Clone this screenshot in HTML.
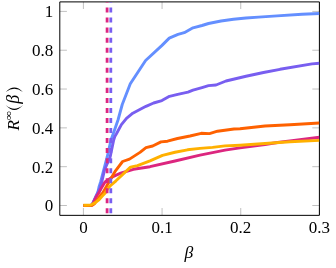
<!DOCTYPE html>
<html><head><meta charset="utf-8"><style>
html,body{margin:0;padding:0;background:#fff;}
svg{display:block;will-change:transform;}
text{font-family:"Liberation Serif",serif;font-size:17px;fill:#000;}
</style></head><body>
<svg width="336" height="268" viewBox="0 0 336 268">
<rect width="336" height="268" fill="#fff"/>
<defs><clipPath id="c"><rect x="59.8" y="1.9" width="259.60" height="213.20"/></clipPath></defs>
<g stroke="#808080" stroke-width="0.5" fill="none"><line x1="83.40" y1="215.1" x2="83.40" y2="208.0"/><line x1="83.40" y1="1.9" x2="83.40" y2="9.0"/><line x1="162.07" y1="215.1" x2="162.07" y2="208.0"/><line x1="162.07" y1="1.9" x2="162.07" y2="9.0"/><line x1="240.74" y1="215.1" x2="240.74" y2="208.0"/><line x1="240.74" y1="1.9" x2="240.74" y2="9.0"/><line x1="319.41" y1="215.1" x2="319.41" y2="208.0"/><line x1="319.41" y1="1.9" x2="319.41" y2="9.0"/><line x1="59.8" y1="205.50" x2="66.90" y2="205.50"/><line x1="319.4" y1="205.50" x2="312.30" y2="205.50"/><line x1="59.8" y1="166.68" x2="66.90" y2="166.68"/><line x1="319.4" y1="166.68" x2="312.30" y2="166.68"/><line x1="59.8" y1="127.86" x2="66.90" y2="127.86"/><line x1="319.4" y1="127.86" x2="312.30" y2="127.86"/><line x1="59.8" y1="89.04" x2="66.90" y2="89.04"/><line x1="319.4" y1="89.04" x2="312.30" y2="89.04"/><line x1="59.8" y1="50.22" x2="66.90" y2="50.22"/><line x1="319.4" y1="50.22" x2="312.30" y2="50.22"/><line x1="59.8" y1="11.40" x2="66.90" y2="11.40"/><line x1="319.4" y1="11.40" x2="312.30" y2="11.40"/></g>
<path d="M59.8,215.35 L59.8,1.9 L319.4,1.9 L319.4,215.35 Z" fill="none" stroke="#000" stroke-width="1" stroke-linejoin="miter"/>
<g clip-path="url(#c)" fill="none" stroke-width="2.9" stroke-linejoin="round">
<polyline stroke="#648FFF" points="83.40,205.50 91.20,205.30 92.40,204.00 96.00,196.30 97.80,192.60 99.00,187.00 100.70,181.70 103.70,170.00 107.25,156.70 111.00,140.00 113.50,133.00 118.00,120.00 122.25,104.50 130.30,83.80 145.60,60.50 161.75,45.60 169.25,38.10 178.00,34.40 184.25,32.70 193.00,27.80 202.00,25.50 208.50,23.50 221.00,21.00 233.50,19.20 246.00,18.00 258.50,17.10 277.00,15.90 302.00,14.30 319.50,13.50"/>
<polyline stroke="#785EF0" points="83.40,205.50 91.20,205.30 92.40,204.00 96.00,196.30 97.80,192.60 99.80,188.50 101.80,182.00 104.50,170.00 110.20,156.70 113.70,140.00 114.80,136.50 116.30,134.00 121.40,124.60 126.50,118.30 132.80,113.20 141.70,108.50 146.00,106.30 153.60,103.00 161.90,100.60 169.50,96.30 177.70,94.30 188.00,92.20 193.00,90.20 202.00,87.60 208.50,85.60 216.00,85.00 226.00,81.00 246.00,76.25 263.50,72.50 280.00,69.30 312.00,63.90 319.50,63.20"/>
<polyline stroke="#DC267F" points="83.40,205.50 91.60,205.30 93.00,203.80 94.50,200.30 96.50,196.30 98.90,192.80 101.10,188.50 105.00,182.00 113.50,176.30 120.70,173.20 133.40,169.30 150.00,166.70 175.00,161.00 200.00,155.10 225.00,150.10 240.00,147.90 265.00,144.50 277.50,142.50 290.00,140.90 319.50,137.20"/>
<polyline stroke="#FE6100" points="83.40,205.50 92.20,205.30 94.50,203.80 96.90,200.30 99.80,196.30 102.90,192.80 105.30,188.50 109.00,182.00 115.50,170.80 122.60,161.50 129.50,159.10 140.00,152.40 146.00,147.70 152.70,146.00 161.00,141.90 167.50,141.20 177.50,138.50 190.00,136.00 201.25,133.30 209.50,133.60 217.50,131.20 234.00,129.00 240.00,128.80 265.00,126.00 290.00,124.75 319.50,123.00"/>
<polyline stroke="#FFB000" points="83.40,205.30 90.80,205.00 95.30,202.60 99.20,199.50 102.30,196.10 105.20,193.00 107.80,188.50 111.30,184.80 116.00,180.80 130.50,167.10 137.50,165.60 150.00,160.80 162.50,155.30 175.00,152.25 187.50,149.80 200.00,148.40 212.50,147.40 225.00,145.90 240.00,145.20 265.00,143.50 290.00,141.75 319.50,140.40"/>
<line stroke="#DC267F" stroke-width="2.8" stroke-dasharray="5.02 5.02" x1="107.1" y1="-2.5" x2="107.1" y2="220"/>
<line stroke="#785EF0" stroke-width="2.8" stroke-dasharray="5.02 5.02" x1="110.8" y1="-2.5" x2="110.8" y2="220"/>
</g>
<text x="83.40" y="233" text-anchor="middle">0</text><text x="162.07" y="233" text-anchor="middle">0.1</text><text x="240.74" y="233" text-anchor="middle">0.2</text><text x="319.41" y="233" text-anchor="middle">0.3</text><text x="53.2" y="211.40" text-anchor="end">0</text><text x="53.2" y="172.58" text-anchor="end">0.2</text><text x="53.2" y="133.76" text-anchor="end">0.4</text><text x="53.2" y="94.94" text-anchor="end">0.6</text><text x="53.2" y="56.12" text-anchor="end">0.8</text><text x="53.2" y="17.30" text-anchor="end">1</text>
<text x="188.9" y="257.6" text-anchor="middle" font-style="italic" style="font-size:17.6px">β</text>
<g>
<text transform="translate(19.1,130.4) rotate(-90)" font-style="italic" style="font-size:17.2px">R</text>
<text transform="translate(12.1,120.2) rotate(-90) scale(1.12,0.95)" style="font-size:11.5px">∞</text>
<path d="M5.7,104.9 Q14.35,114.9 23,104.9 Q14.35,112.5 5.7,104.9 Z" fill="#000"/>
<text transform="translate(18.7,103.7) rotate(-90)" font-style="italic" style="font-size:18px">β</text>
<path d="M5.8,91.9 Q14.3,83.3 22.8,91.9 Q14.3,85.7 5.8,91.9 Z" fill="#000"/>
</g>
</svg>
</body></html>
